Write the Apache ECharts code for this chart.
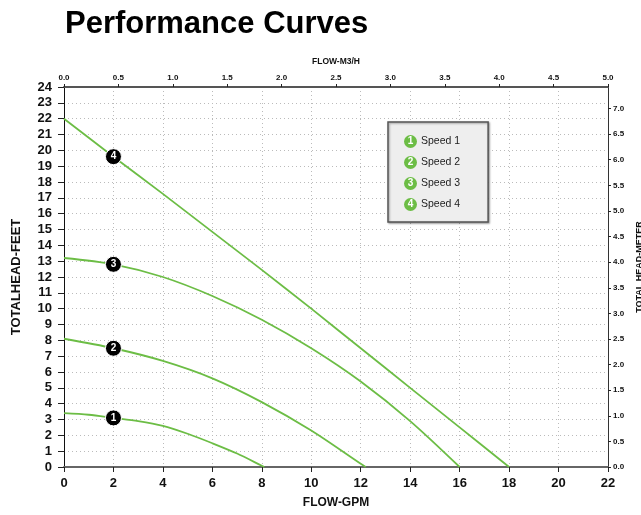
<!DOCTYPE html>
<html>
<head>
<meta charset="utf-8">
<script src="https://cdn.jsdelivr.net/npm/echarts@6/dist/echarts.min.js"></script>
<style>
html,body{margin:0;padding:0;background:#fff;}
#chart{width:641px;height:515px;}
</style>
</head>
<body>
<div id="chart"></div>
<script>
// ---- data ----
const seriesNames = ['Speed 1', 'Speed 2', 'Speed 3', 'Speed 4'];
const flow1 = [0, 1, 2, 3, 4, 5, 6, 7, 8, 8.1];
const head1 = [3.4, 3.3, 3.1, 2.9, 2.6, 2.1, 1.5, 0.85, 0.08, 0];
const flow2 = [0, 2, 4, 6, 8, 10, 12, 12.2];
const head2 = [8.1, 7.5, 6.7, 5.6, 4.1, 2.3, 0.2, 0];
const flow3 = [0, 2, 4, 6, 8, 10, 12, 14, 16];
const head3 = [13.2, 12.8, 12.0, 10.8, 9.3, 7.5, 5.4, 2.9, 0];
const flow4 = [0, 2, 4, 6, 8, 10, 12, 14, 16, 18];
const head4 = [22, 19.6, 17.25, 14.85, 12.45, 10.0, 7.5, 5.0, 2.5, 0];
const markerFlow = [2, 2, 2, 2];
const markerHead = [3.1, 7.5, 12.8, 19.6];
const markerLabels = ['1', '2', '3', '4'];

const GREEN = '#6cbd45';
const flows = [flow1, flow2, flow3, flow4];
const heads = [head1, head2, head3, head4];

const chart = echarts.init(document.getElementById('chart'));
const font = '"Liberation Sans", Arial, Helvetica, sans-serif';

const lineSeries = seriesNames.map((name, i) => ({
  name: name,
  type: 'line',
  xAxisIndex: 0,
  yAxisIndex: 0,
  smooth: 0.3,
  symbol: 'none',
  lineStyle: { color: GREEN, width: 1.8 },
  itemStyle: { color: GREEN },
  data: flows[i].map((x, k) => [x, heads[i][k]]),
  z: 3
}));

const markerSeries = {
  type: 'scatter',
  xAxisIndex: 0,
  yAxisIndex: 0,
  symbol: 'circle',
  symbolSize: 16,
  itemStyle: { color: '#000', borderColor: '#fff', borderWidth: 1, opacity: 1 },
  label: {
    show: true, position: 'inside', color: '#fff', fontWeight: 'bold',
    fontSize: 10, fontFamily: font,
    formatter: p => markerLabels[p.dataIndex]
  },
  data: markerFlow.map((x, k) => [x, markerHead[k]]),
  z: 5
};

const option = {
  backgroundColor: '#fff',
  animation: false,
  title: {
    text: 'Performance Curves',
    left: 60, top: 4,
    textStyle: { fontSize: 31, fontWeight: 'bold', color: '#000', fontFamily: font }
  },
  legend: {
    data: seriesNames,
    orient: 'vertical',
    left: 388, top: 122,
    icon: 'none',
    itemWidth: 0, itemHeight: 13, itemGap: 8,
    padding: [13, 28, 11, 11],
    backgroundColor: '#eeeeee',
    borderColor: '#555',
    borderWidth: 1.5,
    shadowColor: 'rgba(0,0,0,0.35)', shadowBlur: 2, shadowOffsetX: 1, shadowOffsetY: 1,
    formatter: name => '{n|' + (seriesNames.indexOf(name) + 1) + '}{t|' + name + '}',
    textStyle: {
      fontFamily: font,
      rich: {
        n: { backgroundColor: GREEN, borderRadius: 7, width: 13, height: 13, lineHeight: 13,
             align: 'center', color: '#fff', fontWeight: 'bold', fontSize: 10, fontFamily: font },
        t: { fontSize: 10.5, color: '#222', padding: [0, 0, 0, 4], fontFamily: font }
      }
    }
  },
  grid: { left: 64, right: 33, top: 87, bottom: 48, containLabel: false, outerBoundsMode: 'none' },
  xAxis: [
    {
      type: 'value', position: 'bottom', min: 0, max: 22, interval: 2,
      name: 'FLOW-GPM', nameLocation: 'middle', nameGap: 30,
      nameTextStyle: { fontSize: 12, fontWeight: 'bold', color: '#111', fontFamily: font },
      axisLine: { show: true, onZero: false, lineStyle: { color: '#666', width: 2 } },
      axisTick: { show: true, length: 5, lineStyle: { color: '#222' } },
      axisLabel: { fontSize: 13, fontWeight: 'bold', color: '#111', margin: 10, fontFamily: font },
      splitLine: { show: true, lineStyle: { color: '#bbb', type: [1, 3], width: 1 } }
    },
    {
      type: 'value', position: 'top', min: 0, max: 5, interval: 0.5,
      name: 'FLOW-M3/H', nameLocation: 'middle', nameGap: 21,
      nameTextStyle: { fontSize: 8.5, fontWeight: 'bold', color: '#111', fontFamily: font },
      axisLine: { show: true, onZero: false, lineStyle: { color: '#555', width: 2 } },
      axisTick: { show: true, length: 3, lineStyle: { color: '#222' } },
      axisLabel: { fontSize: 8, fontWeight: 'bold', color: '#111', margin: 5, fontFamily: font,
                   formatter: v => v.toFixed(1) },
      splitLine: { show: false }
    }
  ],
  yAxis: [
    {
      type: 'value', position: 'left', min: 0, max: 24, interval: 1,
      name: 'TOTALHEAD-FEET', nameLocation: 'middle', nameGap: 41,
      nameTextStyle: { fontSize: 13, fontWeight: 'bold', color: '#111', fontFamily: font },
      axisLine: { show: true, onZero: false, lineStyle: { color: '#111', width: 1 } },
      axisTick: { show: true, length: 6, lineStyle: { color: '#222' } },
      axisLabel: { fontSize: 13, fontWeight: 'bold', color: '#111', margin: 12, fontFamily: font },
      splitLine: { show: true, lineStyle: { color: '#bbb', type: [1, 3], width: 1 } }
    },
    {
      type: 'value', position: 'right', min: 0, max: 7.42, interval: 0.5,
      name: 'TOTAL HEAD-METER', nameLocation: 'middle', nameGap: 27,
      nameTextStyle: { fontSize: 9, fontWeight: 'bold', color: '#111', fontFamily: font,
                       padding: [0, 0, 0, 20] },
      axisLine: { show: true, onZero: false, lineStyle: { color: '#333', width: 1 } },
      axisTick: { show: true, length: 3, lineStyle: { color: '#222' } },
      axisLabel: { fontSize: 8, fontWeight: 'bold', color: '#111', margin: 5, fontFamily: font,
                   showMaxLabel: false, formatter: v => v.toFixed(1) },
      splitLine: { show: false }
    }
  ],
  series: lineSeries.concat([markerSeries])
};
chart.setOption(option);
</script>
</body>
</html>
